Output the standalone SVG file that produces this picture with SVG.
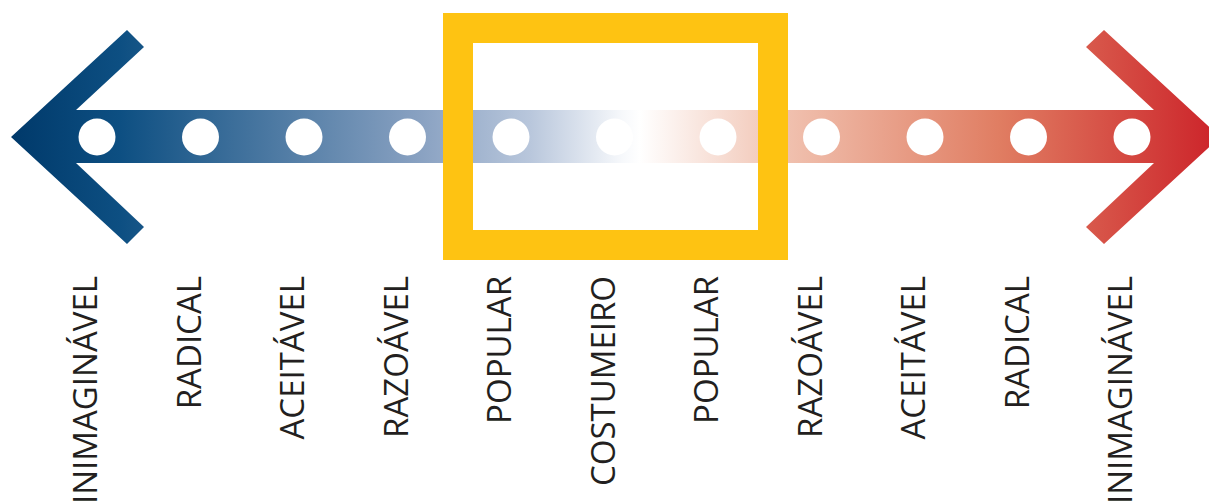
<svg xmlns="http://www.w3.org/2000/svg" width="1209" height="503" viewBox="0 0 1209 503">
<defs>
<linearGradient id="g" gradientUnits="userSpaceOnUse" x1="11" y1="0" x2="1220" y2="0">
<stop offset="0" stop-color="#00396a"/>
<stop offset="0.09" stop-color="#0d4f82"/>
<stop offset="0.34" stop-color="#8aa2c2"/>
<stop offset="0.43" stop-color="#b9c7dc"/>
<stop offset="0.505" stop-color="#f6f8fb"/>
<stop offset="0.52" stop-color="#ffffff"/>
<stop offset="0.644" stop-color="#f0c0ae"/>
<stop offset="0.818" stop-color="#e07d62"/>
<stop offset="1" stop-color="#cc2229"/>
</linearGradient>
<style>
.lbl{font-family:"Open Sans","Liberation Sans",sans-serif;font-size:33px;fill:#231f20;text-anchor:end}
.dot{fill:#ffffff}
</style>
</defs>
<g id="arrow">
<path fill="url(#g)" d="M11,137 L127,30 L144,47 L76,110 L1154,110 L1086,47 L1104,30 L1220,137 L1104,244 L1086,227 L1154,163 L76,163 L144,227 L127,244 Z"/>
</g>
<g id="dots">
<circle class="dot" cx="97" cy="137" r="18.5"/>
<circle class="dot" cx="200.5" cy="137" r="18.5"/>
<circle class="dot" cx="304" cy="137" r="18.5"/>
<circle class="dot" cx="407.5" cy="137" r="18.5"/>
<circle class="dot" cx="511" cy="137" r="18.5"/>
<circle class="dot" cx="614.5" cy="137" r="18.5"/>
<circle class="dot" cx="718" cy="137" r="18.5"/>
<circle class="dot" cx="821.5" cy="137" r="18.5"/>
<circle class="dot" cx="925" cy="137" r="18.5"/>
<circle class="dot" cx="1028.5" cy="137" r="18.5"/>
<circle class="dot" cx="1132" cy="137" r="18.5"/>
</g>
<g id="highlight">
<rect x="458" y="28" width="315" height="217" fill="none" stroke="#fec312" stroke-width="30"/>
</g>
<g id="labels">
<text class="lbl" transform="translate(97,276) rotate(-90)">INIMAGINÁVEL</text>
<text class="lbl" transform="translate(200.5,276) rotate(-90)">RADICAL</text>
<text class="lbl" transform="translate(304,276) rotate(-90)">ACEITÁVEL</text>
<text class="lbl" transform="translate(407.5,276) rotate(-90)">RAZOÁVEL</text>
<text class="lbl" transform="translate(511,276) rotate(-90)">POPULAR</text>
<text class="lbl" transform="translate(614.5,276) rotate(-90)">COSTUMEIRO</text>
<text class="lbl" transform="translate(718,276) rotate(-90)">POPULAR</text>
<text class="lbl" transform="translate(821.5,276) rotate(-90)">RAZOÁVEL</text>
<text class="lbl" transform="translate(925,276) rotate(-90)">ACEITÁVEL</text>
<text class="lbl" transform="translate(1028.5,276) rotate(-90)">RADICAL</text>
<text class="lbl" transform="translate(1132,276) rotate(-90)">INIMAGINÁVEL</text>
</g>
</svg>
